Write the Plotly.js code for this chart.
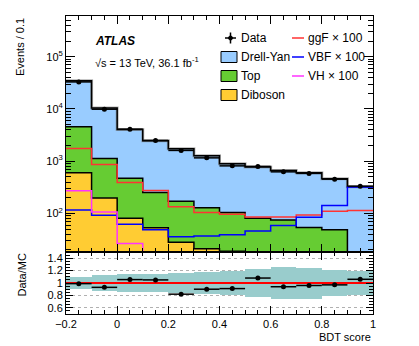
<!DOCTYPE html>
<html>
<head>
<meta charset="utf-8">
<script src="https://cdn.plot.ly/plotly-3.0.1.min.js"></script>
<style>
  html, body { margin: 0; padding: 0; background: #fff; }
  #chart { width: 419px; height: 346px; }
</style>
</head>
<body>
<div id="chart"></div>
<script>
// bins of the BDT score
const binEdges = [-0.2, -0.1, 0, 0.1, 0.2, 0.3, 0.4, 0.5, 0.6, 0.7, 0.8, 0.9, 1.0];
const binCenters = [-0.15, -0.05, 0.05, 0.15, 0.25, 0.35, 0.45, 0.55, 0.65, 0.75, 0.85, 0.95];

// stacked backgrounds (events per bin)
const diboson = [600, 198, 81, 53, 28, 21, 19, 9, 7, 5, 4, 3];
const topBkg = [3970, 932, 389, 199, 144, 107, 85, 72, 68, 49, 45, 9];
const drellYan = [30100, 9370, 3600, 2210, 1560, 1140, 786, 690, 590, 546, 411, 311];

// signals x 100
const ggF = [1760, 870, 390, 276, 134, 104, 97, 86, 86, 93, 110, 114];
const vbf = [116, 92, 62, 49, 36, 37, 39, 46, 59, 85, 142, 320];
const vh = [271, 107, 26.5, 8, 5, 4, 3, 3, 2, 2, 2, 2];

// data
const dataCounts = [33000, 9900, 4100, 2500, 1610, 1160, 815, 795, 626, 585, 454, 333];
const dataRatio = [0.99, 0.93, 1.055, 1.05, 0.82, 0.90, 0.91, 1.08, 0.94, 0.96, 0.97, 1.06];
const ratioErr = [0.10, 0.125, 0.14, 0.14, 0.165, 0.18, 0.19, 0.23, 0.26, 0.25, 0.21, 0.20];

const yTickVals = [100, 1000, 10000, 100000];
const yTickText = ["10<sup>2</sup>", "10<sup>3</sup>", "10<sup>4</sup>", "10<sup>5</sup>"];

const W = 419, H = 346, L = 66, R = 46, T = 16, B = 32;
const PW = W - L - R, PH = H - T - B;
const px = (x) => (x - L) / PW;
const py = (y) => (H - B - y) / PH;
const ratioTop = 0.208;

const FONT = "Liberation Sans, Arial, Helvetica, sans-serif";
const cDY = "#99ccff", cTop = "#66cc33", cDib = "#ffcc33", cBand = "#99cccc";

const greenTop = topBkg.map((v, i) => v + diboson[i]);
const total = drellYan.map((v, i) => v + greenTop[i]);

function steps(vals) {
    return vals.concat([vals[vals.length - 1]]);
}

function stepLine(vals, color, width, yaxis) {
    return {
        x: binEdges, y: steps(vals), type: "scatter", mode: "lines",
        line: { shape: "hv", color: color, width: width },
        xaxis: "x", yaxis: yaxis || "y", showlegend: false, hoverinfo: "skip",
    };
}

function bars(vals, color) {
    return {
        x: binCenters, y: vals, type: "bar", width: 0.1,
        marker: { color: color, line: { width: 0 } },
        xaxis: "x", yaxis: "y", showlegend: false, hoverinfo: "skip",
    };
}

const minorLog = [];
for (let e = 1; e <= 5; e += 1) {
    for (let m = 2; m <= 9; m += 1) minorLog.push(m * Math.pow(10, e));
}

const traces = [
    bars(total, cDY),
    bars(greenTop, cTop),
    bars(diboson, cDib),
    stepLine(diboson, "#000", 1.5),
    stepLine(greenTop, "#000", 1.5),
    stepLine(total, "rgba(120,120,120,0.55)", 3),
    stepLine(total, "#000", 1.5),
    stepLine(ggF, "#ff3333", 1.5),
    stepLine(vbf, "#0000ff", 1.5),
    stepLine(vh, "#ff33ff", 1.5),
    {
        x: binCenters, y: dataCounts, type: "scatter", mode: "markers",
        marker: { color: "#000", size: 5 },
        error_x: { type: "constant", value: 0.05, color: "#000", thickness: 1.5, width: 0 },
        xaxis: "x", yaxis: "y", showlegend: false, hoverinfo: "skip",
    },
    // ratio panel
    {
        x: binCenters, y: ratioErr.map((e) => 2 * e), base: ratioErr.map((e) => 1 - e),
        type: "bar", width: 0.1, marker: { color: cBand, line: { width: 0 } },
        xaxis: "x2", yaxis: "y2", showlegend: false, hoverinfo: "skip",
    },
    {
        x: [binEdges[0], binEdges[binEdges.length - 1]], y: [1, 1], type: "scatter", mode: "lines",
        line: { color: "#ff0000", width: 2 },
        xaxis: "x2", yaxis: "y2", showlegend: false, hoverinfo: "skip",
    },
    {
        x: binCenters, y: dataRatio, type: "scatter", mode: "markers",
        marker: { color: "#000", size: 5 },
        error_x: { type: "constant", value: 0.05, color: "#000", thickness: 1.5, width: 0 },
        xaxis: "x2", yaxis: "y2", showlegend: false, hoverinfo: "skip",
    },
];

const axisBase = {
    showline: true, linecolor: "#000", linewidth: 1, mirror: "allticks",
    ticks: "inside", tickcolor: "#000", zeroline: false, showgrid: false,
    tickfont: { family: FONT, size: 11, color: "#000" },
};

// legend drawn by hand, two columns like the ATLAS style
const shapes = [];
const annotations = [];
const rowY = [38, 57, 76, 95];
const boxEntries = [["Drell-Yan", cDY], ["Top", cTop], ["Diboson", cDib]];
boxEntries.forEach((entry, i) => {
    const yc = rowY[i + 1];
    shapes.push({
        type: "rect", xref: "paper", yref: "paper",
        x0: px(221), x1: px(237), y0: py(yc + 5.5), y1: py(yc - 5.5),
        fillcolor: entry[1], line: { color: "#000", width: 1 },
    });
    annotations.push({
        xref: "paper", yref: "paper", x: px(239), y: py(yc), xanchor: "left", yanchor: "middle",
        text: entry[0], showarrow: false, font: { family: FONT, size: 12, color: "#000" },
    });
});
// Data entry
shapes.push({ type: "line", xref: "paper", yref: "paper", x0: px(225), x1: px(236), y0: py(rowY[0]), y1: py(rowY[0]), line: { color: "#000", width: 1.5 } });
shapes.push({ type: "line", xref: "paper", yref: "paper", x0: px(230.5), x1: px(230.5), y0: py(rowY[0] - 5.5), y1: py(rowY[0] + 5.5), line: { color: "#000", width: 1.5 } });
shapes.push({ type: "circle", xref: "paper", yref: "paper", x0: px(228.5), x1: px(232.5), y0: py(rowY[0] + 2), y1: py(rowY[0] - 2), fillcolor: "#000", line: { color: "#000", width: 1 } });
annotations.push({
    xref: "paper", yref: "paper", x: px(239), y: py(rowY[0]), xanchor: "left", yanchor: "middle",
    text: "Data", showarrow: false, font: { family: FONT, size: 12, color: "#000" },
});
const lineEntries = [["ggF \u00d7 100", "#ff3333"], ["VBF \u00d7 100", "#0000ff"], ["VH \u00d7 100", "#ff33ff"]];
lineEntries.forEach((entry, i) => {
    const yc = rowY[i];
    shapes.push({ type: "line", xref: "paper", yref: "paper", x0: px(292), x1: px(304), y0: py(yc), y1: py(yc), line: { color: entry[1], width: 1.5 } });
    annotations.push({
        xref: "paper", yref: "paper", x: px(306), y: py(yc), xanchor: "left", yanchor: "middle",
        text: entry[0], showarrow: false, font: { family: FONT, size: 12, color: "#000" },
    });
});

annotations.push(
    {
        xref: "paper", yref: "paper", x: px(93), y: py(41), xanchor: "left", yanchor: "middle",
        text: "<b><i>ATLAS</i></b>", showarrow: false, font: { family: FONT, size: 12, color: "#000" },
    },
    {
        xref: "paper", yref: "paper", x: px(93), y: py(62), xanchor: "left", yanchor: "middle",
        text: "\u221As = 13 TeV, 36.1 fb<sup>-1</sup>", showarrow: false, font: { family: FONT, size: 11, color: "#000" },
    },
    {
        xref: "paper", yref: "paper", x: px(20), y: 1, xanchor: "center", yanchor: "top", textangle: -90,
        text: "Events / 0.1", showarrow: false, font: { family: FONT, size: 11, color: "#000" },
    },
    {
        xref: "paper", yref: "paper", x: px(22), y: ratioTop, xanchor: "center", yanchor: "top", textangle: -90,
        text: "Data/MC", showarrow: false, font: { family: FONT, size: 11, color: "#000" },
    },
    {
        xref: "paper", yref: "paper", x: 1, y: py(337), xanchor: "right", yanchor: "middle",
        text: "BDT score", showarrow: false, font: { family: FONT, size: 11, color: "#000" },
    }
);

const layout = {
    width: W, height: H,
    margin: { l: L, r: R, t: T, b: B, pad: 0 },
    paper_bgcolor: "#fff", plot_bgcolor: "#fff",
    barmode: "overlay", bargap: 0,
    font: { family: FONT, size: 11, color: "#000" },
    xaxis: Object.assign({}, axisBase, {
        domain: [0, 1], anchor: "y", range: [-0.2, 1.0], matches: "x2",
        showticklabels: false, tick0: 0, dtick: 0.2, ticklen: 8,
        minor: { ticks: "inside", dtick: 0.05, tick0: 0, ticklen: 4, tickcolor: "#000" },
    }),
    yaxis: Object.assign({}, axisBase, {
        domain: [ratioTop, 1], anchor: "x", type: "log", range: [1.262, 5.78],
        tickmode: "array", tickvals: yTickVals, ticktext: yTickText, ticklen: 9,
        minor: { ticks: "inside", tickmode: "array", tickvals: minorLog, ticklen: 5, tickcolor: "#000" },
    }),
    xaxis2: Object.assign({}, axisBase, {
        domain: [0, 1], anchor: "y2", range: [-0.2, 1.0],
        tick0: 0, dtick: 0.2, ticklen: 8,
        minor: { ticks: "inside", dtick: 0.05, tick0: 0, ticklen: 4, tickcolor: "#000" },
    }),
    yaxis2: Object.assign({}, axisBase, {
        domain: [0, ratioTop], anchor: "x2", range: [0.5, 1.5],
        tick0: 0, dtick: 0.2, ticklen: 7,
        showgrid: true, gridcolor: "#b0b0b0", griddash: "dot", gridwidth: 1,
        minor: { ticks: "inside", dtick: 0.05, tick0: 0, ticklen: 4, tickcolor: "#000" },
    }),
    shapes: shapes,
    annotations: annotations,
};

Plotly.newPlot("chart", traces, layout, { displayModeBar: false, staticPlot: true });
</script>
</body>
</html>
